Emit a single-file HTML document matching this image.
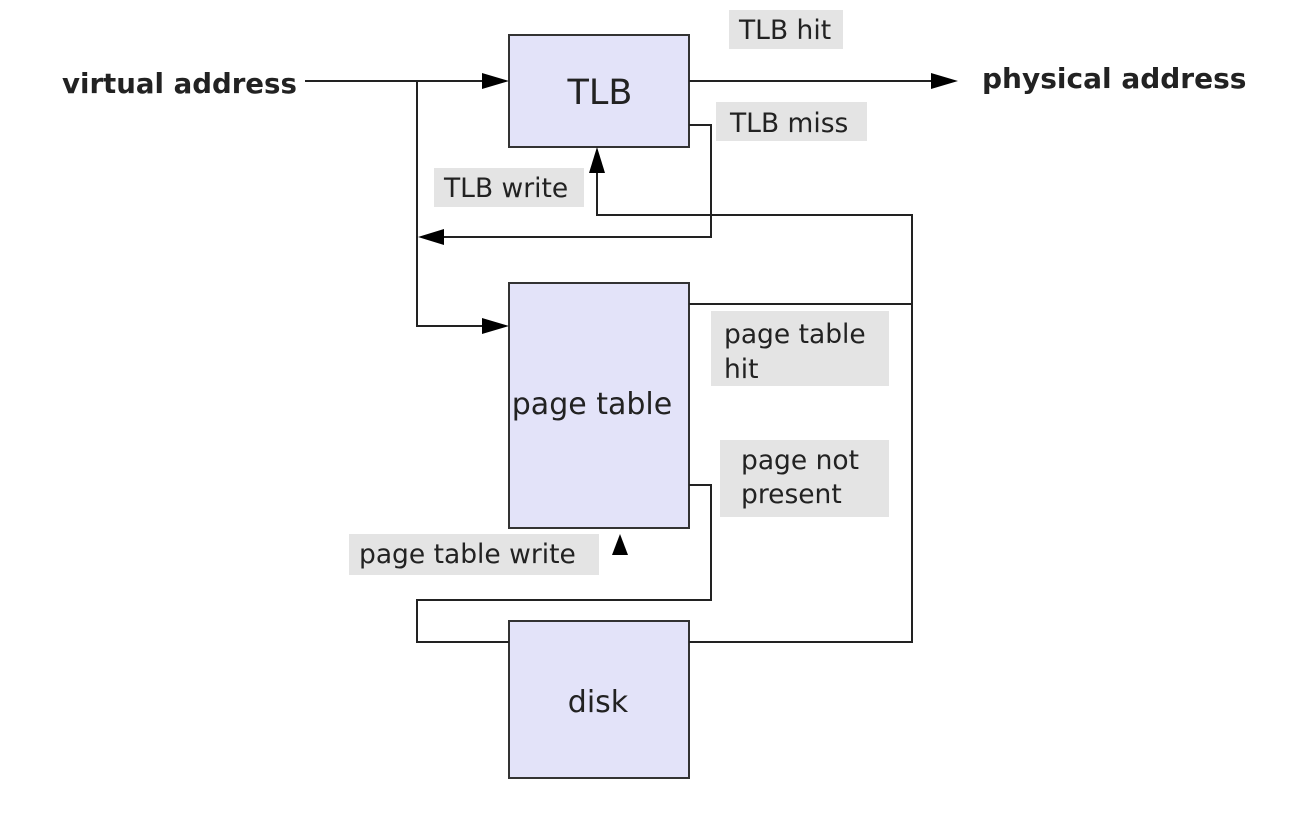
<!DOCTYPE html>
<html><head><meta charset="utf-8"><style>
html,body{margin:0;padding:0;background:#fff;}
svg{display:block;}
text{font-family:"DejaVu Sans","Liberation Sans",sans-serif;fill:#222;}
</style></head><body>
<svg width="1304" height="826" viewBox="0 0 1304 826" xmlns="http://www.w3.org/2000/svg">
<g fill="#e4e4e4">
<rect x="729" y="10" width="114" height="39"/>
<rect x="716" y="102" width="151" height="39"/>
<rect x="434" y="168" width="150" height="39"/>
<rect x="711" y="311" width="178" height="75"/>
<rect x="720" y="440" width="169" height="77"/>
<rect x="349" y="534" width="250" height="41"/>
</g>
<g fill="#e3e3f9" stroke="#333" stroke-width="2">
<rect x="509" y="35" width="180" height="112"/>
<rect x="509" y="283" width="180" height="245"/>
<rect x="509" y="621" width="180" height="157"/>
</g>
<g fill="none" stroke="#222" stroke-width="2">
<polyline points="305,81 490,81"/>
<polyline points="417,81 417,326 490,326"/>
<polyline points="689,81 940,81"/>
<polyline points="689,125 711,125 711,237 438,237"/>
<polyline points="597,168 597,215 912,215 912,642 689,642"/>
<polyline points="689,304 912,304"/>
<polyline points="689,485 711,485 711,600 417,600 417,642 509,642"/>
</g>
<g fill="#000">
<polygon points="509,81 482,73 482,89"/>
<polygon points="509,326 482,318 482,334"/>
<polygon points="958,81 931,73 931,89"/>
<polygon points="418,237 444,229 444,245"/>
<polygon points="597,147 589,173 605,173"/>
<polygon points="620,534 612,555 628,555"/>
</g>
<text x="62" y="93" font-size="27.6" font-weight="bold">virtual address</text>
<text x="982" y="88" font-size="28" font-weight="bold">physical address</text>
<text x="600" y="104" font-size="35" text-anchor="middle" font-weight="500">TLB</text>
<text x="592" y="414" font-size="30" text-anchor="middle">page table</text>
<text x="598" y="712" font-size="30" text-anchor="middle">disk</text>
<g font-size="26.5">
<text x="739" y="39">TLB hit</text>
<text x="730" y="132">TLB miss</text>
<text x="444" y="197">TLB write</text>
<text x="724" y="343">page table</text>
<text x="724" y="378">hit</text>
<text x="741" y="469">page not</text>
<text x="741" y="503">present</text>
<text x="359" y="563">page table write</text>
</g>
</svg>
</body></html>
